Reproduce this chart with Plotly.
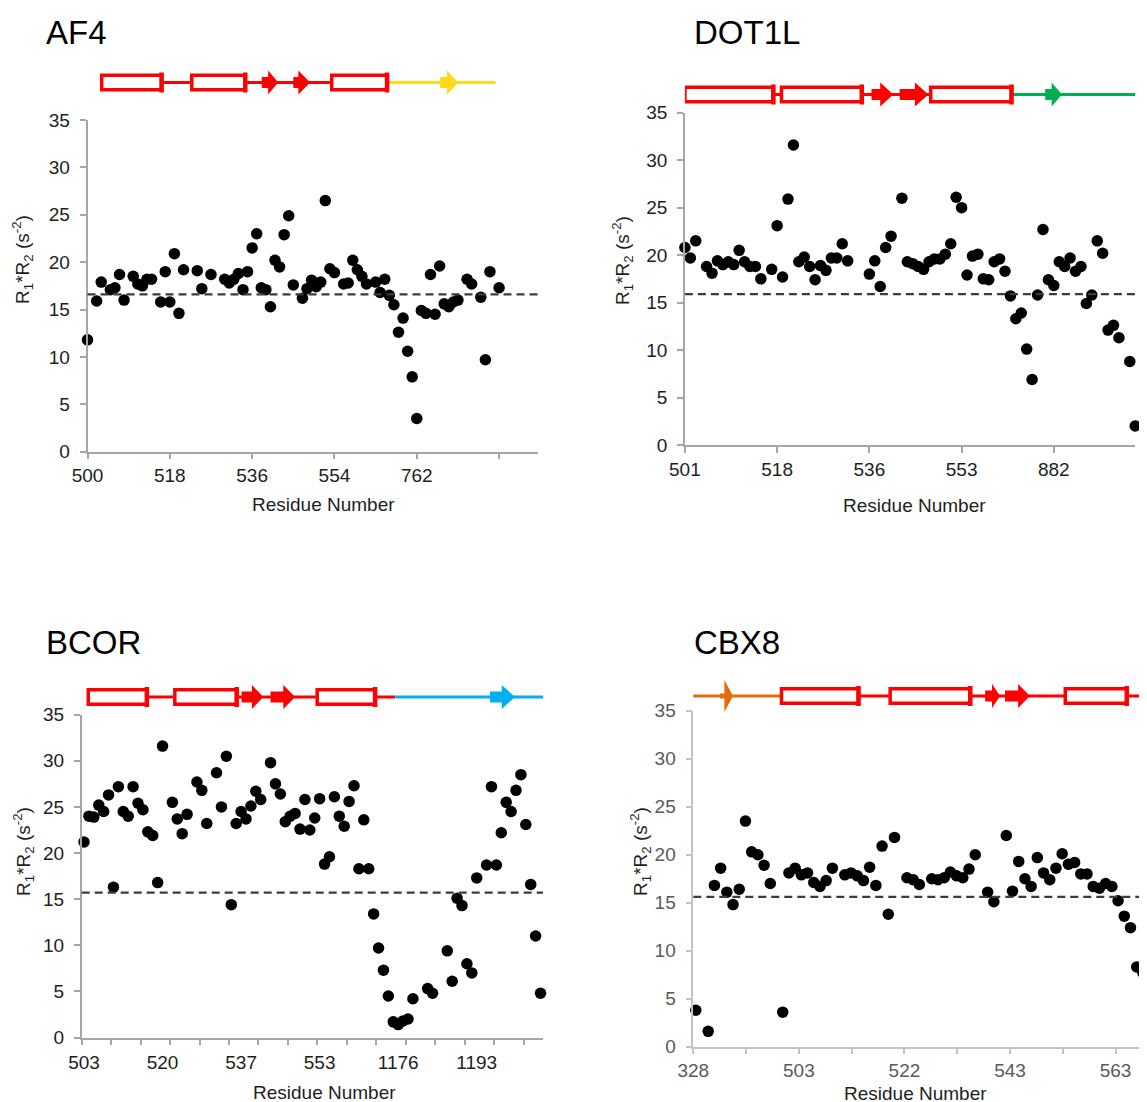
import plotly.graph_objects as go

W, H = 1147, 1102
OFF = 8  # page body margin of the html page

# ---------------- data (residue slot index along category axis, R1*R2 values) ----------------
af4_slot = [0, 2, 3, 5, 6, 7, 8, 10, 11, 12, 13, 14, 16, 17, 18, 19, 20, 21, 24, 25, 27,
            30, 31, 32, 33, 34, 35, 36, 37, 38, 39, 40, 41, 42, 43, 44, 45,
            47, 48, 49, 50, 51, 52, 53, 54, 56, 57, 58, 59, 60, 61,
            63, 64, 65, 66, 67, 68, 69, 70, 71, 72, 73, 74, 75, 76, 77, 78, 79, 80, 81,
            83, 84, 86, 87, 88, 90]
af4_r1r2 = [11.8, 15.9, 17.9, 17.1, 17.3, 18.7, 16.0, 18.5, 17.7, 17.5, 18.2, 18.2,
            15.8, 19.0, 15.8, 20.9, 14.6, 19.2, 19.1, 17.2, 18.7,
            18.2, 17.8, 18.2, 18.8, 17.1, 19.0, 21.5, 23.0, 17.3, 17.1, 15.3, 20.2, 19.5, 22.9, 24.9, 17.6,
            16.2, 17.2, 18.1, 17.4, 17.9, 26.5, 19.3, 18.9, 17.7, 17.8, 20.2, 19.2, 18.5, 17.7,
            17.9, 16.8, 18.2, 16.5, 15.5, 12.6, 14.1, 10.6, 7.9, 3.5, 14.9, 14.6, 18.7, 14.5, 19.6,
            15.6, 15.3, 15.8, 16.0, 18.2, 17.7, 16.3, 9.7, 19.0, 17.3]
af4_mean = 16.6
af4_tick_slot = [0, 18, 36, 54, 72]
af4_tick_text = ["500", "518", "536", "554", "762"]
af4_minor_ticks = [90]
af4_helix = [(3.1, 16.2), (22.8, 34.5), (53.4, 65.5)]
af4_strand = [(38.1, 39.5, 41.7, "red"), (45.0, 46.1, 48.7, "red"), (77.1, 78.6, 81.1, "yellow")]
af4_coil = [(3.1, 65.5, "red"), (65.5, 89.2, "yellow")]

dot1l_slot = [0, 1, 2, 4, 5, 6, 7, 8, 9, 10, 11, 12, 13, 14, 16, 17, 18, 19, 20, 21, 22, 23, 24,
              25, 26, 27, 28, 29, 30, 34, 35, 36, 37, 38, 40, 41, 42, 43, 44, 45, 46, 47, 48, 49,
              50, 51, 52, 53, 54, 55, 56, 57, 58, 59, 60, 61, 62, 63, 64, 65, 66, 67, 68, 69, 70,
              71, 72, 73, 74, 75, 76, 77, 78, 79, 80, 82, 83]
dot1l_r1r2 = [20.8, 19.7, 21.5, 18.8, 18.1, 19.4, 19.0, 19.3, 19.0, 20.5, 19.3, 18.8, 18.8, 17.5,
              18.5, 23.1, 17.7, 25.9, 31.6, 19.3, 19.8, 18.8, 17.4, 18.9, 18.4, 19.7, 19.7, 21.2,
              19.4, 18.0, 19.4, 16.7, 20.8, 22.0, 26.0, 19.3, 19.1, 18.8, 18.5, 19.3, 19.6, 19.6,
              20.1, 21.2, 26.1, 25.0, 17.9, 19.9, 20.1, 17.5, 17.4, 19.3, 19.6, 18.3, 15.7, 13.3,
              13.9, 10.1, 6.9, 15.8, 22.7, 17.4, 16.8, 19.3, 18.8, 19.7, 18.3, 18.8, 14.9, 15.8,
              21.5, 20.2, 12.1, 12.6, 11.3, 8.8, 2.0]
dot1l_mean = 15.9
dot1l_tick_slot = [0, 17, 34, 51, 68]
dot1l_tick_text = ["501", "518", "536", "553", "882"]
dot1l_minor_ticks = None
dot1l_helix = [(0.0, 16.3), (17.8, 32.6), (45.3, 60.2)]
dot1l_strand = [(34.4, 36.0, 38.4, "red"), (39.6, 42.4, 44.9, "red"), (66.4, 67.6, 69.5, "green")]
dot1l_coil = [(0.0, 60.2, "red"), (60.2, 83.3, "green")]

bcor_slot = [0, 1, 2, 3, 4, 5, 6, 7, 8, 9, 10, 11, 12, 13, 14, 15, 16, 18, 19, 20, 21, 23, 24,
             25, 27, 28, 29, 30, 31, 32, 33, 34, 35, 36, 38, 39, 40, 41, 42, 43, 44, 45, 46, 47,
             48, 49, 50, 51, 52, 53, 54, 55, 56, 57, 58, 59, 60, 61, 62, 63, 64, 65, 66, 67, 70,
             71, 74, 75, 76, 77, 78, 79, 80, 82, 83, 84, 85, 86, 87, 88, 89, 90, 91, 92, 93]
bcor_r1r2 = [21.2, 24.0, 23.9, 25.2, 24.5, 26.3, 16.3, 27.2, 24.5, 24.0, 27.2, 25.4, 24.7, 22.3,
             21.9, 16.8, 31.6, 25.5, 23.7, 22.1, 24.2, 27.7, 26.8, 23.2, 28.7, 25.0, 30.5, 14.4,
             23.2, 24.5, 23.7, 25.1, 26.7, 25.8, 29.8, 27.5, 26.4, 23.4, 24.0, 24.3, 22.6, 25.8,
             22.5, 23.8, 25.9, 18.8, 19.6, 26.1, 24.0, 22.9, 25.6, 27.3, 18.3, 23.6, 18.3, 13.4,
             9.7, 7.3, 4.5, 1.7, 1.4, 1.8, 2.0, 4.2, 5.3, 4.8, 9.4, 6.1, 15.1, 14.3, 8.0, 7.0,
             17.3, 18.7, 27.2, 18.7, 22.2, 25.5, 24.5, 26.8, 28.5, 23.1, 16.6, 11.0, 4.8]
bcor_mean = 15.7
bcor_tick_slot = [0, 16, 32, 48, 64, 80]
bcor_tick_text = ["503", "520", "537", "553", "1176", "1193"]
bcor_minor_ticks = [-0.47 + 6 * k for k in range(16)]
bcor_helix = [(0.87, 12.8), (18.5, 31.1), (47.5, 59.3)]
bcor_strand = [(32.1, 34.2, 36.5, "red"), (38.0, 40.6, 43.0, "red"), (82.7, 85.1, 87.8, "blue")]
bcor_coil = [(0.87, 63.4, "red"), (63.4, 93.6, "blue")]

cbx8_slot = [0, 2, 3, 4, 5, 6, 7, 8, 9, 10, 11, 12, 14, 15, 16, 17, 18, 19, 20, 21, 22, 24, 25,
             26, 27, 28, 29, 30, 31, 32, 34, 35, 36, 38, 39, 40, 41, 42, 43, 44, 45, 47, 48, 50,
             51, 52, 53, 54, 55, 56, 57, 58, 59, 60, 61, 62, 63, 64, 65, 66, 67, 68, 69, 70, 71,
             72, 73]
cbx8_r1r2 = [3.8, 1.6, 16.8, 18.6, 16.1, 14.8, 16.4, 23.5, 20.3, 20.0, 18.9, 17.0, 3.6, 18.1,
             18.6, 17.9, 18.1, 17.1, 16.7, 17.3, 18.6, 17.9, 18.1, 17.8, 17.3, 18.7, 16.8, 20.9,
             13.8, 21.8, 17.6, 17.4, 16.9, 17.5, 17.4, 17.6, 18.2, 17.8, 17.6, 18.5, 20.0, 16.1,
             15.1, 22.0, 16.2, 19.3, 17.5, 16.7, 19.7, 18.1, 17.4, 18.6, 20.1, 19.0, 19.2, 18.0,
             18.0, 16.7, 16.5, 17.0, 16.7, 15.2, 13.6, 12.4, 8.3, 7.7, 3.9]
cbx8_mean = 15.6
cbx8_tick_slot = [-0.4, 16.6, 33.6, 50.6, 67.6]
cbx8_tick_text = ["328", "503", "522", "543", "563"]
cbx8_minor_ticks = [8.1, 25.1, 42.1, 59.1]
cbx8_helix = [(13.8, 26.2), (31.3, 44.2), (59.5, 69.4)]
cbx8_strand = [(3.9, 4.6, 6.0, "orange"), (46.6, 47.7, 49.0, "red"), (49.8, 51.9, 53.8, "red")]
cbx8_coil = [(-0.56, 13.8, "orange"), (13.8, 80.0, "red")]

y_ticks = [0, 5, 10, 15, 20, 25, 30, 35]

COLORS = {"red": "#ff0000", "yellow": "#ffd91a", "green": "#00b050",
          "blue": "#00b0f0", "orange": "#e46c0a"}

FONT = "Liberation Sans, Arial, sans-serif"

panels = [
    dict(name="AF4", slot=af4_slot, val=af4_r1r2, mean=af4_mean, tv=af4_tick_slot, tt=af4_tick_text,
         minor=af4_minor_ticks, major_marks=True,
         helix=af4_helix, strand=af4_strand, coil=af4_coil,
         xpx=(87.5, 537.5), ypx=(451.7, 120.0), xr=[0, 98.4], ss_y=82.5,
         title_xy=(44, 33), ytitle_xy=(23, 260), xtitle_xy=(323, 504),
         tick_col="#1e1e1e", axis_col="#a6a6a6"),
    dict(name="DOT1L", slot=dot1l_slot, val=dot1l_r1r2, mean=dot1l_mean, tv=dot1l_tick_slot,
         tt=dot1l_tick_text, minor=dot1l_minor_ticks, major_marks=True,
         helix=dot1l_helix, strand=dot1l_strand, coil=dot1l_coil,
         xpx=(684.9, 1135.2), ypx=(445.0, 112.7), xr=[0, 83.0], ss_y=94.5,
         title_xy=(692, 33), ytitle_xy=(622, 261), xtitle_xy=(914, 505),
         tick_col="#1e1e1e", axis_col="#a6a6a6"),
    dict(name="BCOR", slot=bcor_slot, val=bcor_r1r2, mean=bcor_mean, tv=bcor_tick_slot,
         tt=bcor_tick_text, minor=bcor_minor_ticks, major_marks=False,
         helix=bcor_helix, strand=bcor_strand, coil=bcor_coil,
         xpx=(81.7, 543.0), ypx=(1037.5, 714.7), xr=[-0.47, 93.5], ss_y=697,
         title_xy=(44, 642), ytitle_xy=(23, 852), xtitle_xy=(324, 1092),
         tick_col="#1e1e1e", axis_col="#a6a6a6"),
    dict(name="CBX8", slot=cbx8_slot, val=cbx8_r1r2, mean=cbx8_mean, tv=cbx8_tick_slot,
         tt=cbx8_tick_text, minor=cbx8_minor_ticks, major_marks=True,
         helix=cbx8_helix, strand=cbx8_strand, coil=cbx8_coil,
         xpx=(693.3, 1147.0), ypx=(1046.7, 710.7), xr=[-0.4, 72.66], ss_y=696,
         title_xy=(692, 642), ytitle_xy=(640, 852), xtitle_xy=(915, 1093),
         tick_col="#5a5a5a", axis_col="#c4c4c4"),
]


def py(p):
    return 1 - (p - OFF) / H


def pxx(p):
    return (p - OFF) / W


fig = go.Figure()
shapes = []
annotations = []
layout_axes = {}

for i, p in enumerate(panels):
    n = "" if i == 0 else str(i + 1)
    xa, ya = "x" + n, "y" + n
    fig.add_trace(go.Scatter(
        x=p["slot"], y=p["val"], mode="markers", xaxis=xa, yaxis=ya,
        marker=dict(color="black", size=11.5, line=dict(width=0)),
        cliponaxis=False, showlegend=False, hoverinfo="x+y"))

    tickfont = dict(family=FONT, size=19, color=p["tick_col"])
    xax = dict(domain=[pxx(p["xpx"][0]), min(1.0, pxx(p["xpx"][1]))], anchor=ya,
               range=p["xr"], showline=True, linecolor=p["axis_col"], linewidth=1.5,
               showgrid=False, zeroline=False, tickmode="array", tickvals=p["tv"],
               ticktext=p["tt"], ticks="outside" if p["major_marks"] else "",
               ticklen=6, tickwidth=1.5,
               tickcolor=p["axis_col"], tickfont=tickfont,
               ticklabelstandoff=0 if p["major_marks"] else 7)
    if p["minor"] is not None:
        xax["minor"] = dict(tickmode="array", tickvals=p["minor"], ticks="outside", ticklen=6,
                            tickwidth=1.5, tickcolor=p["axis_col"], showgrid=False)
    yax = dict(domain=[py(p["ypx"][0]), py(p["ypx"][1])], anchor=xa, range=[0, 35],
               showline=True, linecolor=p["axis_col"], linewidth=1.5, showgrid=False,
               zeroline=False, tickmode="array", tickvals=y_ticks, ticks="outside", ticklen=6,
               tickwidth=1.5, tickcolor=p["axis_col"], tickfont=tickfont, ticklabelstandoff=6)
    layout_axes["xaxis" + n] = xax
    layout_axes["yaxis" + n] = yax

    # dashed mean line
    shapes.append(dict(type="line", xref=xa + " domain", yref=ya, x0=0, x1=1,
                       y0=p["mean"], y1=p["mean"],
                       line=dict(color="#3c3c3c", width=2.2, dash="8px,5px")))

    # secondary structure diagram
    yc = p["ss_y"]
    for (s, e, c) in p["coil"]:
        shapes.append(dict(type="line", xref=xa, yref="paper", x0=s, x1=e, y0=py(yc), y1=py(yc),
                           line=dict(color=COLORS[c], width=3)))
    for (s, e) in p["helix"]:
        shapes.append(dict(type="rect", xref=xa, yref="paper", x0=s, x1=e,
                           y0=py(yc + 7.3), y1=py(yc - 7.3), fillcolor="white",
                           line=dict(color=COLORS["red"], width=3.5)))
        shapes.append(dict(type="line", xref=xa, yref="paper", x0=e, x1=e,
                           y0=py(yc + 10), y1=py(yc - 10),
                           line=dict(color=COLORS["red"], width=4.5)))
    for (s, hs, e, c) in p["strand"]:
        if c == "orange":
            sh, hh = 2.5, 16
        else:
            sh, hh = 5.5, 12
        path = (f"M {s},{py(yc - sh)} L {hs},{py(yc - sh)} L {hs},{py(yc - hh)} "
                f"L {e},{py(yc)} L {hs},{py(yc + hh)} L {hs},{py(yc + sh)} L {s},{py(yc + sh)} Z")
        shapes.append(dict(type="path", xref=xa, yref="paper", path=path,
                           fillcolor=COLORS[c], line=dict(width=0)))

    # panel title
    tx, ty = p["title_xy"]
    annotations.append(dict(text=p["name"], xref="paper", yref="paper", x=pxx(tx), y=py(ty),
                            xanchor="left", yanchor="middle", showarrow=False,
                            font=dict(family=FONT, size=33, color="black")))
    # y-axis title
    yx, yy = p["ytitle_xy"]
    annotations.append(dict(text="R<sub>1</sub>*R<sub>2</sub> (s<sup>-2</sup>)", xref="paper",
                            yref="paper", x=pxx(yx), y=py(yy), xanchor="center",
                            yanchor="middle", textangle=-90, showarrow=False,
                            font=dict(family=FONT, size=19, color="#1e1e1e")))
    # x-axis title
    xx, xy = p["xtitle_xy"]
    annotations.append(dict(text="Residue Number", xref="paper", yref="paper", x=pxx(xx),
                            y=py(xy), xanchor="center", yanchor="middle", showarrow=False,
                            font=dict(family=FONT, size=19, color="#1e1e1e")))

fig.update_layout(
    width=W, height=H, margin=dict(l=0, r=0, t=0, b=0, autoexpand=False),
    paper_bgcolor="white", plot_bgcolor="white",
    shapes=shapes, annotations=annotations, showlegend=False,
    **layout_axes)

fig.write_html("out.html")
